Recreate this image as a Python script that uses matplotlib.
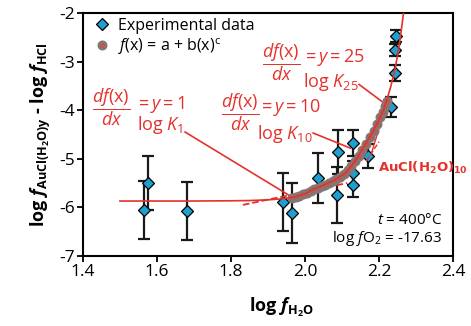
import matplotlib
matplotlib.use("Agg")
import matplotlib.pyplot as plt

plt.rcParams['font.family'] = ['Open Sans', 'DejaVu Sans']
plt.rcParams['mathtext.fontset'] = 'custom'
plt.rcParams['mathtext.rm'] = 'Open Sans'
plt.rcParams['mathtext.it'] = 'Open Sans:italic'
plt.rcParams['mathtext.bf'] = 'Open Sans:bold'
plt.rcParams['mathtext.bfit'] = 'Open Sans:italic:bold'
plt.rcParams['mathtext.default'] = 'regular'

ROJO = '#e5312b'
AZUL = '#1f9fcf'
GRIS = '#847774'

# Datos experimentales (log fH2O, log f, error)
x_exp = [1.565, 1.575, 1.68, 1.94, 1.965, 2.035, 2.086, 2.088, 2.13, 2.13, 2.13, 2.17,
         2.232, 2.242, 2.244, 2.246]
y_exp = [-6.05, -5.50, -6.07, -5.89, -6.12, -5.40, -5.75, -4.86, -4.68, -5.29, -5.54, -4.95,
         -3.93, -3.23, -2.76, -2.47]
err_exp = [0.60, 0.55, 0.60, 0.60, 0.62, 0.52, 0.58, 0.45, 0.27, 0.25, 0.25, 0.25,
           0.20, 0.17, 0.13, 0.13]

# Curva ajustada f(x) = a + b(x)^c
x_fit = [1.50, 1.60, 1.70, 1.80, 1.85, 1.90, 1.93, 1.97, 2.00, 2.02, 2.05, 2.08, 2.11,
         2.135, 2.16, 2.18, 2.20, 2.212, 2.222, 2.231, 2.238, 2.245, 2.252, 2.259, 2.266]
y_fit = [-5.87, -5.87, -5.87, -5.865, -5.86, -5.845, -5.83, -5.79, -5.72, -5.64, -5.54,
         -5.44, -5.29, -5.05, -4.74, -4.48, -4.20, -3.99, -3.76, -3.53, -3.32, -3.08,
         -2.78, -2.42, -2.00]

# Puntos grises de la funcion
x_gris = [1.965, 1.975, 1.985, 1.995, 2.005, 2.015, 2.025, 2.035, 2.045, 2.055, 2.065,
          2.075, 2.085, 2.095, 2.105, 2.115, 2.125, 2.135, 2.145, 2.155, 2.165, 2.175,
          2.185, 2.195, 2.203, 2.210, 2.216, 2.222]
y_gris = [-5.80, -5.78, -5.76, -5.73, -5.70, -5.66, -5.63, -5.60, -5.57, -5.53, -5.50,
          -5.46, -5.42, -5.37, -5.31, -5.24, -5.15, -5.05, -4.94, -4.82, -4.69, -4.56,
          -4.43, -4.28, -4.15, -4.03, -3.92, -3.82]

# Tangentes (pendiente 1, 10, 25)
tan1_x, tan1_y = [1.832, 2.114], [-5.95, -5.50]
tan10_x, tan10_y = [2.165, 2.200], [-5.05, -4.65]
tan25_x, tan25_y = [2.180, 2.222], [-4.87, -3.83]

# Lineas de las anotaciones
linK1_x, linK1_y = [1.676, 1.965], [-4.45, -5.79]
linK10_x, linK10_y = [2.022, 2.122], [-4.47, -4.78]
linK25_x, linK25_y = [2.146, 2.211], [-3.47, -3.84]

# Etiquetas de pendiente
pendientes = ['1', '10', '25']
pos_frac = [(1.425, -3.93), (1.774, -4.04), (1.884, -3.01)]
pos_igual = [(1.540, -3.88), (1.872, -3.95), (1.993, -2.92)]
pos_logk = [(1.546, -4.31), (1.870, -4.49), (1.995, -3.41)]

fig = plt.figure(figsize=(4.71, 3.26), dpi=100)
ax = fig.add_axes([0.176, 0.215, 0.786, 0.745])

ax.errorbar(x_exp, y_exp, yerr=err_exp, fmt='none', ecolor='#1a1a1a',
            elinewidth=1.6, capsize=4.5, capthick=1.6, zorder=2)
diam, = ax.plot(x_exp, y_exp, 'D', color=AZUL, markeredgecolor='black',
                markeredgewidth=0.9, markersize=6.5, linestyle='none', zorder=3)

ax.plot(tan1_x, tan1_y, '--', color=ROJO, lw=1.3, zorder=4)
ax.plot(tan10_x, tan10_y, '--', color=ROJO, lw=1.0, zorder=4)
ax.plot(tan25_x, tan25_y, '-', color=ROJO, lw=1.0, zorder=4)

circ, = ax.plot(x_gris, y_gris, 'o', markerfacecolor='#b85a55', markeredgecolor=GRIS,
                markeredgewidth=1.7, markersize=5.5, linestyle='none', zorder=5)
ax.plot(x_fit, y_fit, '-', color=ROJO, lw=1.2, zorder=6)

for lx, ly in [(linK1_x, linK1_y), (linK10_x, linK10_y), (linK25_x, linK25_y)]:
    ax.plot(lx, ly, '-', color=ROJO, lw=1.2, zorder=4)

# Textos en rojo
fs_rojo = 13
for p, (fx, fy), (ix, iy), (kx, ky) in zip(pendientes, pos_frac, pos_igual, pos_logk):
    ax.text(fx, fy, r'$\dfrac{\mathit{df}(x)}{\mathit{dx}}$', color=ROJO,
            fontsize=fs_rojo, ha='left', va='center')
    ax.text(ix, iy, r'$=\mathit{y}=\mathit{%s}$' % p, color=ROJO,
            fontsize=fs_rojo, ha='left', va='center')
    ax.text(kx, ky, r'log $\mathit{K}_{\mathit{%s}}$' % p, color=ROJO,
            fontsize=fs_rojo, ha='left', va='center')

ax.text(2.197, -5.19, r'AuCl(H$_2$O)$_{10}$', color=ROJO, fontsize=9.5,
        fontweight='bold', family=['Liberation Sans Narrow', 'DejaVu Sans'],
        ha='left', va='center')

ax.text(2.37, -6.27, r'$\mathit{t}$ = 400°C', fontsize=11, ha='right', va='center')
ax.text(2.37, -6.65, r'log $\mathit{f}$O$_2$ = -17.63', fontsize=11, ha='right',
        va='center')

leg = ax.legend([diam, circ], ['Experimental data', r'$\mathit{f}$(x) = a + b(x)$^{c}$'],
                loc='upper left', bbox_to_anchor=(0.0, 1.02), frameon=False,
                fontsize=11.5, handletextpad=0.4, labelspacing=0.15,
                handlelength=1.2, borderaxespad=0.2)

ax.set_xlim(1.4, 2.4)
ax.set_ylim(-7, -2)
ax.set_xticks([1.4, 1.6, 1.8, 2.0, 2.2, 2.4])
ax.set_yticks([-7, -6, -5, -4, -3, -2])
ax.set_xticklabels(['1.4', '1.6', '1.8', '2.0', '2.2', '2.4'])
ax.set_yticklabels(['-7', '-6', '-5', '-4', '-3', '-2'])
ax.tick_params(direction='out', length=4, width=1.3, labelsize=12.5, pad=2)
for s in ax.spines.values():
    s.set_linewidth(1.5)

ax.set_xlabel(r'log $\mathbfit{f}_{\mathbf{H_2O}}$', fontsize=13, fontweight='bold')
ax.xaxis.set_label_coords(0.535, -0.165)
ax.set_ylabel(r'log $\mathbfit{f}_{\mathbf{AuCl(H_2O)y}}$ - log $\mathbfit{f}_{\mathbf{HCl}}$',
              fontsize=13, fontweight='bold', labelpad=4)

fig.savefig('out.png', dpi=100)
